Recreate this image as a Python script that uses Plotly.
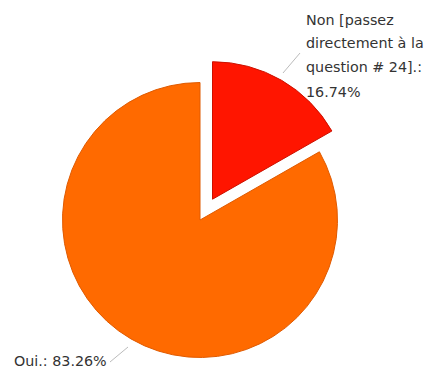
import plotly.graph_objects as go

labels = ["Non [passez directement à la question # 24].", "Oui."]
values = [16.74, 83.26]
colors = ["#FF1500", "#FF6A00"]
edge_colors = ["#CC1100", "#E05A00"]
red_label_lines = ["Non [passez", "directement à la", "question # 24].:", "16.74%"]
orange_label = "Oui.: 83.26%"

W, H = 434, 373
CLEAR = "rgba(0,0,0,0)"

def px(x):
    return x / W

def py(y):
    return 1 - y / H

r = 137.5
c1 = (200.0, 220.0)   # main pie centre (pixels)
c2 = (212.5, 199.2)   # exploded slice centre (pixels)

def dom(c):
    return dict(x=[px(c[0] - r), px(c[0] + r)], y=[py(c[1] + r), py(c[1] - r)])

common = dict(labels=labels, values=values, sort=False, direction="clockwise",
              rotation=0, textinfo="none", hoverinfo="none", showlegend=False)

fig = go.Figure()
fig.add_trace(go.Pie(**common, domain=dom(c1),
                     marker=dict(colors=[CLEAR, colors[1]],
                                 line=dict(color=[CLEAR, edge_colors[1]], width=1))))
fig.add_trace(go.Pie(**common, domain=dom(c2),
                     marker=dict(colors=[colors[0], CLEAR],
                                 line=dict(color=[edge_colors[0], CLEAR], width=1))))

font = dict(family="DejaVu Sans", size=14.3, color="#333333")
line_y = [20, 43, 67, 92]
for t, yy in zip(red_label_lines, line_y):
    fig.add_annotation(text=t, x=px(304), y=py(yy), xref="paper", yref="paper",
                       xanchor="left", yanchor="middle", showarrow=False, font=font)
fig.add_annotation(text=orange_label, x=px(109), y=py(361), xref="paper", yref="paper",
                   xanchor="right", yanchor="middle", showarrow=False, font=font)

fig.add_shape(type="line", xref="paper", yref="paper", x0=px(283), y0=py(73),
              x1=px(300), y1=py(53), line=dict(color="#BBBBBB", width=1))
fig.add_shape(type="line", xref="paper", yref="paper", x0=px(110), y0=py(362),
              x1=px(128), y1=py(347), line=dict(color="#BBBBBB", width=1))

fig.update_layout(width=W, height=H, margin=dict(l=0, r=0, t=0, b=0),
                  paper_bgcolor="white", plot_bgcolor="white")
fig.write_html("out.html")
